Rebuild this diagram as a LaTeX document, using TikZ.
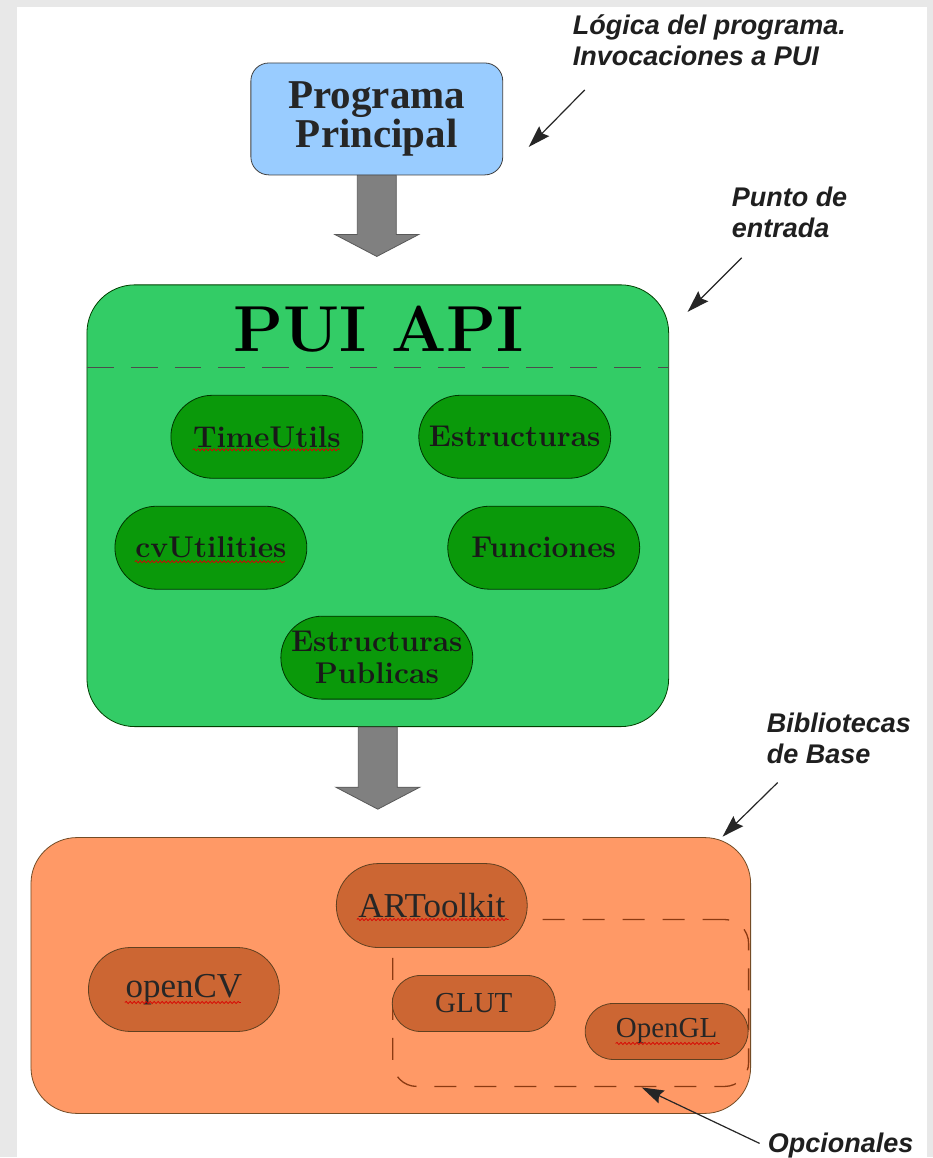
\documentclass[tikz,border=0pt]{standalone}
\usepackage{fontspec}
\newfontfamily\notefont{Liberation Sans}
\newfontfamily\libfont{Liberation Serif}
\usepackage{tikz}
\usetikzlibrary{positioning, arrows.meta, calc, shapes.misc, decorations.pathmorphing}

\definecolor{pagegray}{HTML}{E8E8E8}
\definecolor{progblue}{HTML}{99CCFF}
\definecolor{apigreen}{HTML}{33CC66}
\definecolor{modgreen}{HTML}{0A990A}
\definecolor{baseorange}{HTML}{FF9966}
\definecolor{liborange}{HTML}{CC6633}
\definecolor{optbrown}{HTML}{8B3A12}
\definecolor{arrowgray}{HTML}{808080}

\begin{document}
\begin{tikzpicture}[
  x=1pt, y=-1pt,
  box/.style={draw, align=center, inner sep=2pt},
  progbox/.style={box, fill=progblue, draw=black!75, line width=0.8pt, rounded corners=18pt,
    minimum width=252pt, minimum height=112pt, text=black!85,
    font=\libfont\bfseries\fontsize{41}{40}\selectfont},
  apibox/.style={box, fill=apigreen, draw=green!25!black, line width=0.8pt, rounded corners=48pt},
  basebox/.style={box, fill=baseorange, draw=brown!60!black, line width=0.8pt, rounded corners=46pt},
  optbox/.style={draw=optbrown, line width=1.3pt, dash pattern=on 22pt off 18pt, rounded corners=24pt},
  modbox/.style={rounded rectangle, draw=green!20!black, fill=modgreen, line width=0.8pt,
    minimum width=194pt, minimum height=83pt, inner sep=1pt, align=center, text=black!90,
    font=\bfseries\fontsize{30}{32}\selectfont},
  libbox/.style={rounded rectangle, draw=brown!50!black, fill=liborange, line width=0.8pt,
    minimum width=193pt, minimum height=84pt, inner sep=1pt, text=black!85,
    font=\libfont\fontsize{35}{35}\selectfont},
  smalllib/.style={libbox, minimum width=165pt, minimum height=56pt,
    font=\libfont\fontsize{29}{29}\selectfont},
  fatarrow/.style={fill=arrowgray, draw=black!65, line width=0.8pt, line join=miter},
  sepline/.style={draw=black!70, line width=1.2pt, dash pattern=on 27pt off 17pt},
  note/.style={font=\notefont\bfseries\itshape\fontsize{27}{31}\selectfont, align=left,
    inner sep=0pt, text=black!88},
  ann/.style={-{Stealth[length=22pt, width=14pt, inset=3pt]}, line width=1.2pt, black!85},
  typo/.style={draw=red!85!black, line width=0.7pt, decorate,
    decoration={snake, amplitude=1.1pt, segment length=4pt}},
]

% === Page ===
\fill[pagegray] (0,0) rectangle (933,1158);
\fill[white] (17,7) rectangle (927,1158);

% === Main program ===
\node[progbox] (prog) at (377,119) {Programa\\Principal};

% === PUI API block ===
\node[apibox, minimum width=582pt, minimum height=442pt] (api) at (378,506) {};
\node[anchor=base, inner sep=0pt, font=\bfseries\fontsize{65}{65}\selectfont] (title) at (379,352) {PUI API};
\draw[sepline] ($(api.north west)+(0,83)$) -- ($(api.north east)+(0,83)$);

% modules
\node[modbox] (tu) at (267,437) {TimeUtils};
\node[modbox] (es) at (515,437) {Estructuras};
\node[modbox] (cv) at (211,548) {cvUtilities};
\node[modbox] (fn) at (544,548) {Funciones};
\node[modbox] (ep) at (377,658) {Estructuras\\Publicas};

% === Base libraries ===
\node[basebox, minimum width=720pt, minimum height=276pt] (base) at (391,976) {};
\node[optbox, minimum width=356pt, minimum height=167pt] (opt) at (571,1003.5) {};

\node[libbox] (ar) at (432,906) {ARToolkit};
\node[libbox] (ocv) at (184,990) {openCV};
\node[smalllib] (glut) at (474,1004) {GLUT};
\node[smalllib] (ogl) at (667,1032) {OpenGL};

% spell-check marks
\draw[typo] ([shift={(-74,13)}]tu.center) -- ++(147,0);
\draw[typo] ([shift={(-76,14)}]cv.center) -- ++(150,0);
\draw[typo] ([shift={(-75,14)}]ar.center) -- ++(152,0);
\draw[typo] ([shift={(-59,13)}]ocv.center) -- ++(116,0);
\draw[typo] ([shift={(-51,12)}]ogl.center) -- ++(104,0);

% === Fat arrows ===
\coordinate (progtip) at (prog.south |- api.north);
\draw[fatarrow] ([xshift=-19.5pt]prog.south) -- ([xshift=-19.5pt,yshift=50pt]progtip)
  -- ([xshift=-42pt,yshift=50pt]progtip) -- ([yshift=28pt]progtip)
  -- ([xshift=42pt,yshift=50pt]progtip) -- ([xshift=19.5pt,yshift=50pt]progtip)
  -- ([xshift=19.5pt]prog.south) -- cycle;

\coordinate (apitip) at (api.south |- base.north);
\draw[fatarrow] ([xshift=-19.5pt]api.south) -- ([xshift=-19.5pt,yshift=50pt]apitip)
  -- ([xshift=-42pt,yshift=50pt]apitip) -- ([yshift=28pt]apitip)
  -- ([xshift=42pt,yshift=50pt]apitip) -- ([xshift=19.5pt,yshift=50pt]apitip)
  -- ([xshift=19.5pt]api.south) -- cycle;

% === Notes ===
\node[note, anchor=north west] (logic) at (573,15) {Lógica del programa.\\Invocaciones a PUI};
\node[note, anchor=north west] (entry) at (732,187) {Punto de\\entrada};
\node[note, anchor=north west] (libs) at (767,713) {Bibliotecas\\de Base};
\node[note, anchor=base west] (optn) at (768,1153) {Opcionales};

\coordinate (logicfrom) at (585,90);  \coordinate (logicto) at (529,147);
\coordinate (entryfrom) at (742,258); \coordinate (entryto) at (688,312);
\coordinate (libsfrom) at (778,783);  \coordinate (libsto) at (723,837);
\coordinate (optfrom) at (760,1144);  \coordinate (optto) at (642,1088);

\draw[ann] (logicfrom) -- (logicto);
\draw[ann] (entryfrom) -- (entryto);
\draw[ann] (libsfrom) -- (libsto);
\draw[ann] (optfrom) -- (optto);

\end{tikzpicture}
\end{document}
